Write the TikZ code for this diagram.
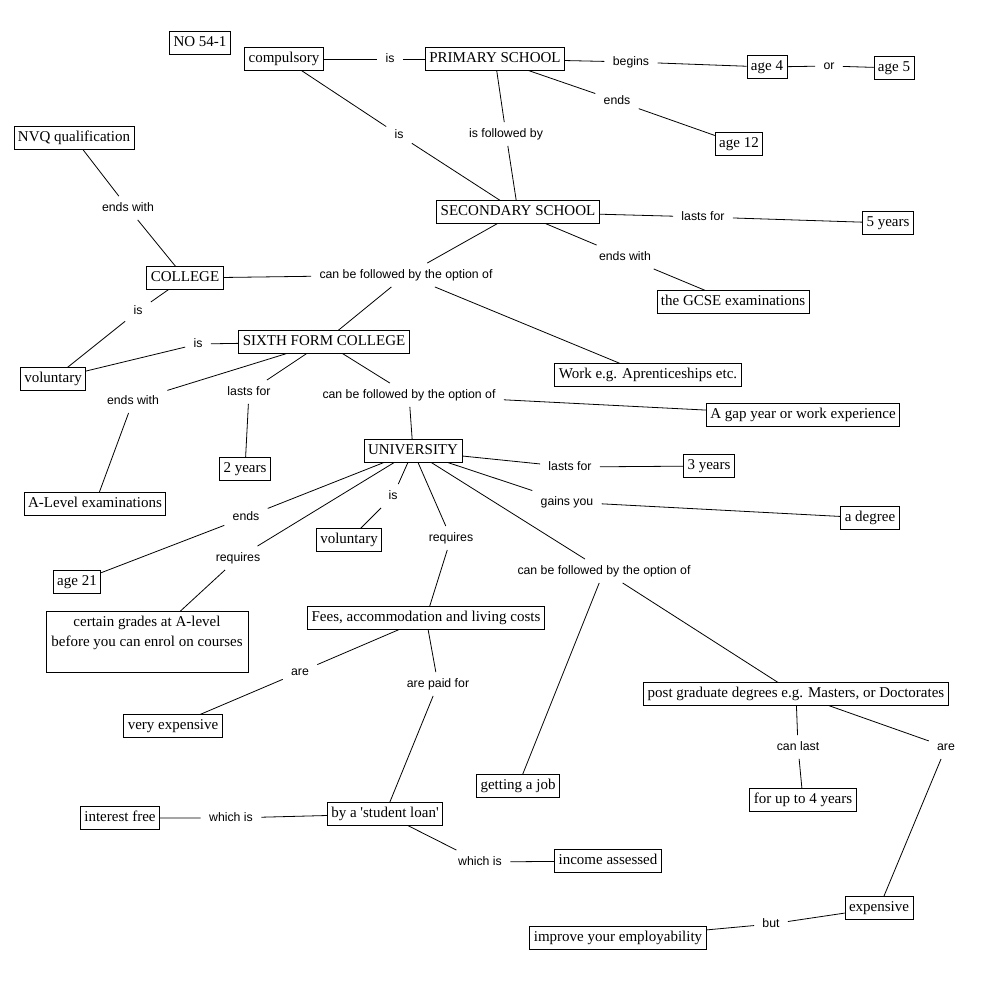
\documentclass[tikz,border=0pt]{standalone}
\usepackage{fontspec}
\setmainfont{Liberation Serif}
\newfontfamily\linkfont{Liberation Sans}
\usepackage{tikz}
\usetikzlibrary{positioning}

\begin{document}
\begin{tikzpicture}[x=1pt,y=-1pt,line width=0.8pt,
    concept/.style={draw,rectangle,inner xsep=4pt,inner ysep=4pt,
        text height=11pt,text depth=3.5pt,font=\fontsize{15}{20}\selectfont},
    phrase/.style={inner xsep=8pt,inner ysep=6pt,
        text height=8.6pt,text depth=2.5pt,font=\linkfont\fontsize{12.3}{14}\selectfont}]

    % the page
    \fill[white] (0,0) rectangle (1001,992);
    \useasboundingbox (0,0) rectangle (1001,992);

    % the concepts
    \node[concept] (no) at (200,43) {NO 54-1};
    \node[concept] (comp) at (284,59) {compulsory};
    \node[concept] (prim) at (495,59) {PRIMARY SCHOOL};
    \node[concept] (agefour) at (767,67) {age 4};
    \node[concept] (agefive) at (894,68) {age 5};
    \node[concept] (agetwelve) at (739,144) {age 12};
    \node[concept] (nvq) at (74,138) {NVQ qualification};
    \node[concept] (sec) at (518,212) {SECONDARY SCHOOL};
    \node[concept] (fiveyr) at (888,223) {5 years};
    \node[concept] (coll) at (185,278) {COLLEGE};
    \node[concept] (gcse) at (733,302) {the GCSE examinations};
    \node[concept] (sixth) at (324,342) {SIXTH FORM COLLEGE};
    \node[concept] (volone) at (53,379) {voluntary};
    \node[concept] (work) at (648,375) {Work e.g. Aprenticeships etc.};
    \node[concept] (gap) at (803,415) {A gap year or work experience};
    \node[concept] (twoyr) at (245,469) {2 years};
    \node[concept] (uni) at (413,451) {UNIVERSITY};
    \node[concept] (threeyr) at (709,466) {3 years};
    \node[concept] (alevel) at (95,504) {A-Level examinations};
    \node[concept] (degree) at (870,518) {a degree};
    \node[concept] (voltwo) at (349,540) {voluntary};
    \node[concept] (agetwentyone) at (77,582) {age 21};
    \node[concept,text depth=42pt,anchor=north] (grades) at (147,611)
        {\parbox[t]{194pt}{\centering certain grades at A-level\\before you can enrol on courses}};
    \node[concept] (fees) at (426,618) {Fees, accommodation and living costs};
    \node[concept] (postgrad) at (796,694) {post graduate degrees e.g. Masters, or Doctorates};
    \node[concept] (vexp) at (173,726) {very expensive};
    \node[concept] (job) at (518,786) {getting a job};
    \node[concept] (fouryr) at (803,800) {for up to 4 years};
    \node[concept] (intfree) at (120,818) {interest free};
    \node[concept] (loan) at (385,814) {by a \textquotesingle student loan\textquotesingle};
    \node[concept] (income) at (608,861) {income assessed};
    \node[concept] (expensive) at (879,908) {expensive};
    \node[concept] (employ) at (618,938) {improve your employability};

    % the linking phrases
    \node[phrase] (isA) at (390,59) {is};
    \node[phrase] (begins) at (631,62) {begins};
    \node[phrase] (or) at (829,66) {or};
    \node[phrase] (endsA) at (617,101) {ends};
    \node[phrase] (follow) at (506,134) {is followed by};
    \node[phrase] (isB) at (399,135) {is};
    \node[phrase] (withA) at (128,208) {ends with};
    \node[phrase] (lastsA) at (703,217) {lasts for};
    \node[phrase] (withB) at (625,257) {ends with};
    \node[phrase] (optA) at (406,275) {can be followed by the option of};
    \node[phrase] (isC) at (138,311) {is};
    \node[phrase] (isD) at (198,344) {is};
    \node[phrase] (withC) at (133,401) {ends with};
    \node[phrase] (lastsB) at (249,392) {lasts for};
    \node[phrase] (optB) at (409,395) {can be followed by the option of};
    \node[phrase] (lastsC) at (570,467) {lasts for};
    \node[phrase] (gains) at (567,502) {gains you};
    \node[phrase] (isE) at (393,496) {is};
    \node[phrase] (endsB) at (246,517) {ends};
    \node[phrase] (reqA) at (238,558) {requires};
    \node[phrase] (reqB) at (451,538) {requires};
    \node[phrase] (optC) at (604,571) {can be followed by the option of};
    \node[phrase] (areA) at (300,672) {are};
    \node[phrase] (paid) at (438,684) {are paid for};
    \node[phrase] (canlast) at (798,747) {can last};
    \node[phrase] (areB) at (946,747) {are};
    \node[phrase] (whichA) at (231,818) {which is};
    \node[phrase] (whichB) at (480,862) {which is};
    \node[phrase] (but) at (771,924) {but};

    % the connecting lines
    \draw (comp) -- (isA) -- (prim);
    \draw (prim) -- (begins) -- (agefour);
    \draw (agefour) -- (or) -- (agefive);
    \draw (prim) -- (endsA) -- (agetwelve);
    \draw (prim) -- (follow) -- (sec);
    \draw (comp) -- (isB) -- (sec);
    \draw (coll) -- (withA) -- (nvq);
    \draw (sec) -- (lastsA) -- (fiveyr);
    \draw (sec) -- (withB) -- (gcse);
    \draw (sec) -- (optA);
    \draw (optA) -- (coll);
    \draw (optA) -- (sixth);
    \draw (optA) -- (work);
    \draw (coll) -- (isC) -- (volone);
    \draw (sixth) -- (isD) -- (volone);
    \draw (sixth) -- (withC) -- (alevel);
    \draw (sixth) -- (lastsB) -- (twoyr);
    \draw (sixth) -- (optB);
    \draw (optB) -- (uni);
    \draw (optB) -- (gap);
    \draw (uni) -- (lastsC) -- (threeyr);
    \draw (uni) -- (gains) -- (degree);
    \draw (uni) -- (isE) -- (voltwo);
    \draw (uni) -- (endsB) -- (agetwentyone);
    \draw (uni) -- (reqA) -- (grades);
    \draw (uni) -- (reqB) -- (fees);
    \draw (uni) -- (optC);
    \draw (optC) -- (job);
    \draw (optC) -- (postgrad);
    \draw (fees) -- (areA) -- (vexp);
    \draw (fees) -- (paid) -- (loan);
    \draw (postgrad) -- (canlast) -- (fouryr);
    \draw (postgrad) -- (areB) -- (expensive);
    \draw (loan) -- (whichA) -- (intfree);
    \draw (loan) -- (whichB) -- (income);
    \draw (expensive) -- (but) -- (employ);
\end{tikzpicture}
\end{document}
